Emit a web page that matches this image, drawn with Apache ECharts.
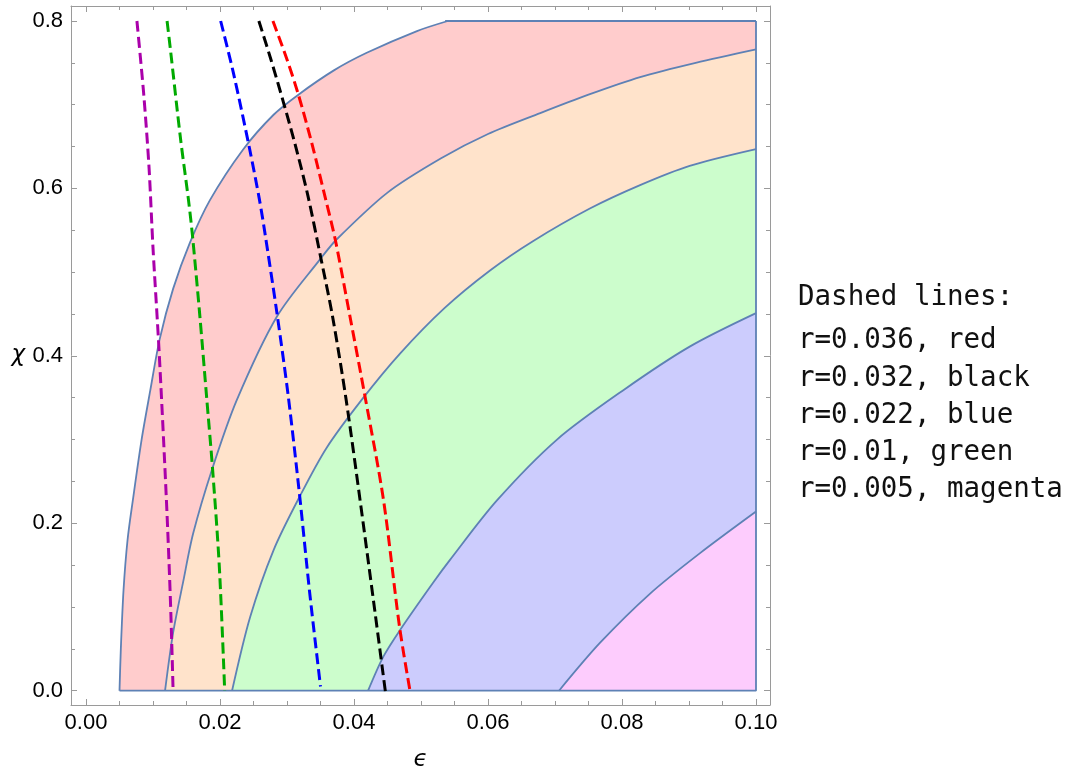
<!DOCTYPE html>
<html><head><meta charset="utf-8">
<script src="https://cdn.jsdelivr.net/npm/echarts@6/dist/echarts.min.js"></script>
<style>html,body{margin:0;padding:0;background:#fff}#c{width:1077px;height:774px}</style>
</head><body><div id="c"></div>
<script>
// ---- tick values and labels ----
const xMajor = [0, 0.02, 0.04, 0.06, 0.08, 0.1];
const xMajorLabels = ['0.00', '0.02', '0.04', '0.06', '0.08', '0.10'];
const xMinor = [0.005, 0.01, 0.015, 0.025, 0.03, 0.035, 0.045, 0.05, 0.055, 0.065, 0.07, 0.075, 0.085, 0.09, 0.095];
const yMajor = [0, 0.2, 0.4, 0.6, 0.8];
const yMajorLabels = ['0.0', '0.2', '0.4', '0.6', '0.8'];
const yMinor = [0.05, 0.1, 0.15, 0.25, 0.3, 0.35, 0.45, 0.5, 0.55, 0.65, 0.7, 0.75];

// ---- region boundary curves (epsilon, chi) ----
const curveAEps = [0.0050, 0.0052, 0.0056, 0.0062, 0.0070, 0.0083, 0.0096, 0.0110, 0.0130, 0.0155, 0.0185, 0.0234, 0.0280, 0.0317, 0.0370, 0.0419, 0.0494, 0.0540];
const curveAChi = [0.000, 0.050, 0.120, 0.180, 0.228, 0.300, 0.359, 0.420, 0.480, 0.535, 0.586, 0.646, 0.688, 0.712, 0.741, 0.762, 0.788, 0.800];
const curveBEps = [0.0118, 0.0130, 0.0145, 0.0160, 0.0188, 0.0225, 0.0285, 0.0349, 0.0374, 0.0450, 0.0530, 0.0600, 0.0678, 0.0750, 0.0827, 0.0910, 0.1000];
const curveBChi = [0.000, 0.069, 0.130, 0.188, 0.264, 0.347, 0.447, 0.515, 0.539, 0.595, 0.636, 0.665, 0.690, 0.712, 0.733, 0.750, 0.766];
const curveCEps = [0.0218, 0.0245, 0.0280, 0.0319, 0.0359, 0.0412, 0.0469, 0.0535, 0.0603, 0.0667, 0.0752, 0.0827, 0.0901, 0.1000];
const curveCChi = [0.000, 0.088, 0.168, 0.232, 0.290, 0.348, 0.403, 0.457, 0.502, 0.537, 0.576, 0.604, 0.627, 0.647];
const curveDEps = [0.0421, 0.0444, 0.0470, 0.0518, 0.0543, 0.0613, 0.0703, 0.0802, 0.0901, 0.1000];
const curveDChi = [0.000, 0.041, 0.074, 0.129, 0.156, 0.227, 0.300, 0.359, 0.411, 0.451];
const curveEEps = [0.0706, 0.0767, 0.0842, 0.0916, 0.1000];
const curveEChi = [0.000, 0.057, 0.116, 0.164, 0.214];
const chiTop = 0.8;
const epsRight = 0.1;

// ---- dashed lines (epsilon, chi) ----
const redEps = [0.0279, 0.0300, 0.0317, 0.0337, 0.0358, 0.0372, 0.0394, 0.0417, 0.0444, 0.0468, 0.0484];
const redChi = [0.800, 0.754, 0.712, 0.654, 0.586, 0.539, 0.447, 0.349, 0.228, 0.076, -0.002];
const blackEps = [0.0258, 0.0276, 0.0295, 0.0313, 0.0331, 0.0351, 0.0368, 0.0388, 0.0409, 0.0429, 0.0447];
const blackChi = [0.800, 0.754, 0.702, 0.650, 0.592, 0.515, 0.447, 0.349, 0.228, 0.108, -0.002];
const blueEps = [0.0201, 0.0220, 0.0244, 0.0259, 0.0267, 0.0285, 0.0302, 0.0319, 0.0334, 0.0350];
const blueChi = [0.800, 0.738, 0.648, 0.586, 0.547, 0.451, 0.351, 0.232, 0.116, 0.005];
const greenEps = [0.0121, 0.0126, 0.0141, 0.0153, 0.0159, 0.0170, 0.0180, 0.0189, 0.0199, 0.0207];
const greenChi = [0.800, 0.766, 0.660, 0.586, 0.543, 0.447, 0.351, 0.264, 0.148, 0.000];
const magentaEps = [0.0076, 0.0086, 0.0094, 0.0100, 0.0109, 0.0120, 0.0126, 0.0130];
const magentaChi = [0.800, 0.714, 0.626, 0.529, 0.407, 0.228, 0.108, 0.000];

const legendLines = ['Dashed lines:', 'r=0.036, red', 'r=0.032, black', 'r=0.022, blue', 'r=0.01, green', 'r=0.005, magenta'];

// ---- build ----
const zip = (a, b) => a.map((v, i) => [v, b[i]]);
const bands = [
  [curveAEps, curveAChi, '#ffcccc'],
  [curveBEps, curveBChi, '#ffe3cb'],
  [curveCEps, curveCChi, '#ccfdcc'],
  [curveDEps, curveDChi, '#ccccfd'],
  [curveEEps, curveEChi, '#fdccfd']
];
const dashed = [
  [magentaEps, magentaChi, '#aa00aa'],
  [greenEps, greenChi, '#00aa00'],
  [blueEps, blueChi, '#0000ff'],
  [blackEps, blackChi, '#000000'],
  [redEps, redChi, '#ff0000']
];
const edgeColor = '#5e81b5', edgeWidth = 1.8;

const XMIN = -15 / 6700, XMAX = 0.1 + 14 / 6700;
const YMIN = -14.3 / 837.1, YMAX = 0.8 + 15 / 837.1;
const frameColor = '#9a9a9a';
const labelFont = { fontSize: 22, color: '#000', fontFamily: 'Liberation Sans' };

function lab(vals, labels) {
  return v => { const i = vals.findIndex(t => Math.abs(t - v) < 1e-9); return i >= 0 ? labels[i] : ''; };
}
function xAx(pos, ticks, len, line, withLabels) {
  const a = {
    type: 'value', min: XMIN, max: XMAX, position: pos,
    axisLine: { show: line, onZero: false, lineStyle: { color: frameColor, width: 1 } },
    axisTick: { show: true, inside: true, length: len, customValues: ticks, lineStyle: { color: frameColor, width: 1 } },
    axisLabel: { show: !!withLabels, customValues: ticks, formatter: lab(xMajor, xMajorLabels), margin: 7, ...labelFont },
    splitLine: { show: false }
  };
  if (withLabels) {
    a.name = 'ϵ'; a.nameLocation = 'middle'; a.nameGap = 44;
    a.nameTextStyle = { fontSize: 23, fontStyle: 'italic', color: '#000', fontFamily: 'DejaVu Sans' };
  }
  return a;
}
function yAx(pos, ticks, len, line, withLabels) {
  const a = {
    type: 'value', min: YMIN, max: YMAX, position: pos,
    axisLine: { show: line, onZero: false, lineStyle: { color: frameColor, width: 1 } },
    axisTick: { show: true, inside: true, length: len, customValues: ticks, lineStyle: { color: frameColor, width: 1 } },
    axisLabel: { show: !!withLabels, customValues: ticks, formatter: lab(yMajor, yMajorLabels), margin: 8, ...labelFont },
    splitLine: { show: false }
  };
  if (withLabels) {
    a.name = 'χ'; a.nameLocation = 'middle'; a.nameGap = 46; a.nameRotate = 0;
    a.nameTextStyle = { fontSize: 23, fontStyle: 'italic', color: '#000', fontFamily: 'DejaVu Sans' };
  }
  return a;
}

const series = [];
function areaLine(data, fill, smooth) {
  return {
    type: 'line', xAxisIndex: 0, yAxisIndex: 0, data: data, showSymbol: false, symbol: 'none', silent: true,
    smooth: smooth,
    lineStyle: { color: edgeColor, width: edgeWidth },
    areaStyle: { color: fill, opacity: 1, origin: 'auto' }
  };
}
bands.forEach(([e, c, fill], i) => {
  series.push(areaLine(zip(e, c), fill, 0.3));
  if (i === 0) {
    // flat top part of the outer region
    series.push(areaLine([[e[e.length - 1] - 0.0004, chiTop], [epsRight, chiTop]], fill, false));
  }
});
// bottom and right edges of the filled regions
series.push({
  type: 'line', data: [[curveAEps[0], 0], [epsRight, 0], [epsRight, chiTop]], showSymbol: false, symbol: 'none', silent: true,
  lineStyle: { color: edgeColor, width: edgeWidth }
});
dashed.forEach(([e, c, col]) => {
  series.push({
    type: 'line', xAxisIndex: 0, yAxisIndex: 0, data: zip(e, c), showSymbol: false, symbol: 'none', silent: true,
    smooth: 0.3,
    lineStyle: { color: col, width: 3, type: [11, 5] }
  });
});

const legendY = [298, 341, 379, 416, 453, 490];
const chart = echarts.init(document.getElementById('c'), null, { renderer: 'canvas' });
chart.setOption({
  animation: false,
  backgroundColor: '#ffffff',
  grid: { left: 71, right: 307, top: 6, bottom: 69, containLabel: false, outerBoundsMode: 'none' },
  xAxis: [xAx('bottom', xMajor, 6, true, true), xAx('bottom', xMinor, 4, false, false), xAx('top', xMajor, 6, true, false), xAx('top', xMinor, 4, false, false)],
  yAxis: [yAx('left', yMajor, 6, true, true), yAx('left', yMinor, 4, false, false), yAx('right', yMajor, 6, true, false), yAx('right', yMinor, 4, false, false)],
  series: series,
  graphic: legendLines.map((t, i) => ({
    type: 'text', x: 798, y: legendY[i],
    style: { text: t, fontSize: 27.5, fontFamily: 'DejaVu Sans Mono', fill: '#111', verticalAlign: 'middle', align: 'left' }
  }))
});
</script></body></html>
